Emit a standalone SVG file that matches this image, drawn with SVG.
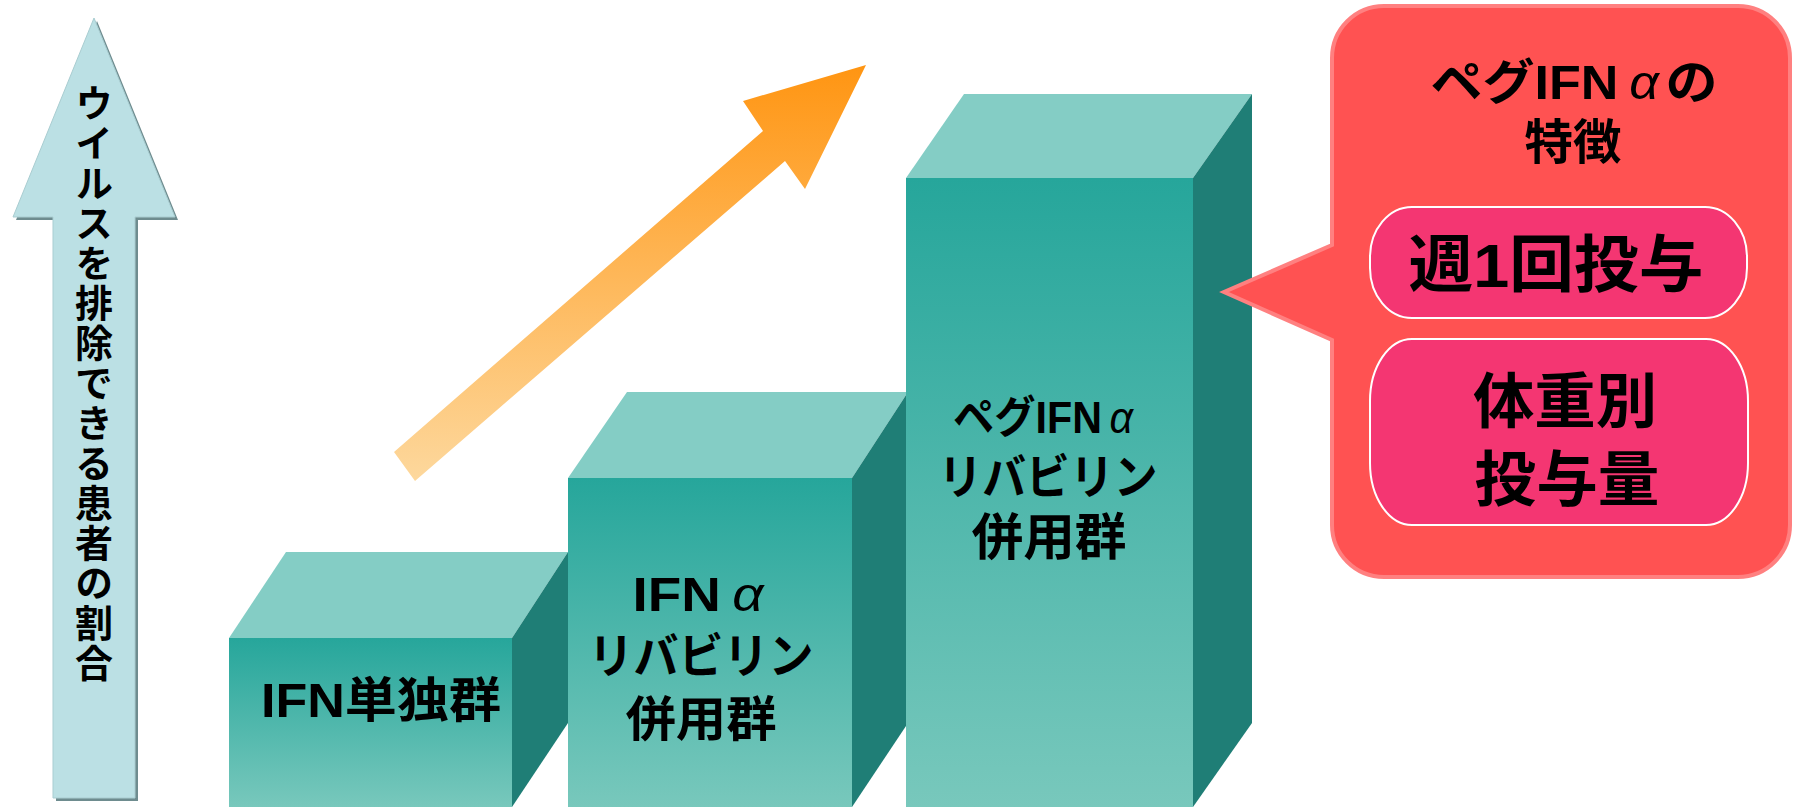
<svg xmlns="http://www.w3.org/2000/svg" width="1793" height="807" viewBox="0 0 1793 807">
<defs>
<linearGradient id="front" x1="0" y1="0" x2="0" y2="1">
<stop offset="0" stop-color="#26A69B"/>
<stop offset="1" stop-color="#78C8BC"/>
</linearGradient>
<linearGradient id="orange" gradientUnits="userSpaceOnUse" x1="0" y1="65" x2="0" y2="481">
<stop offset="0" stop-color="#FF9512"/>
<stop offset="1" stop-color="#FDD89D"/>
</linearGradient>
<style>
.top{fill:#84CDC5}
.front{fill:url(#front)}
.side{fill:#1F7E76}
.t{font-family:"Liberation Sans","Noto Sans CJK JP",sans-serif;font-weight:bold;fill:#000;text-anchor:middle;dominant-baseline:central}
.v{font-family:"Noto Sans CJK JP",sans-serif;font-weight:bold;fill:#000;text-anchor:middle}
.a{font-style:italic;font-weight:normal}
.pill{fill:#F43672;stroke:#FFFFFF;stroke-width:2}
</style>
</defs>
<rect width="1793" height="807" fill="#FFFFFF"/>

<g id="axis-arrow">
<polygon points="97,21 178,220 138,220 138,801 56,801 56,220 16,220" fill="#6E8C8F"/>
<polygon points="94,18 175,217 135,217 135,798 53,798 53,217 13,217" fill="#BBE0E4" stroke="#A9CDD1" stroke-width="1"/>
<text class="v" x="94" y="384" font-size="38" style="writing-mode:vertical-rl" letter-spacing="2">ウイルスを排除できる患者の割合</text>
</g>

<g id="connectors">
<polygon id="trend-arrow" points="394,452 763,131 743,101 866,65 805,189 785,161 415,481" fill="url(#orange)"/>
</g>

<g id="box1">
<polygon class="top" points="229,638 286,552 568,552 512,638"/>
<polygon class="side" points="512,638 568,552 568,723 512,807"/>
<rect class="front" x="229" y="638" width="283" height="169"/>
<text class="t" x="381" y="700" font-size="48" textLength="240" lengthAdjust="spacingAndGlyphs">IFN単独群</text>
</g>

<g id="box2">
<polygon class="top" points="568,478 627,392 908,392 852,478"/>
<polygon class="side" points="852,478 908,392 908,723 852,807"/>
<rect class="front" x="568" y="478" width="284" height="329"/>
<text class="t" x="698" y="594" font-size="48" textLength="131" lengthAdjust="spacingAndGlyphs">IFN<tspan class="a" dx="10">α</tspan></text>
<text class="t" x="701" y="656" font-size="48" textLength="225" lengthAdjust="spacingAndGlyphs">リバビリン</text>
<text class="t" x="701" y="719" font-size="48" textLength="151" lengthAdjust="spacingAndGlyphs">併用群</text>
</g>

<g id="box3">
<polygon class="top" points="906,178 964,94 1252,94 1193,178"/>
<polygon class="side" points="1193,178 1252,94 1252,723 1193,807"/>
<rect class="front" x="906" y="178" width="287" height="629"/>
<text class="t" x="1043" y="417" font-size="44" textLength="180" lengthAdjust="spacingAndGlyphs">ペグIFN<tspan class="a" dx="8">α</tspan></text>
<text class="t" x="1048" y="477" font-size="48" textLength="219" lengthAdjust="spacingAndGlyphs">リバビリン</text>
<text class="t" x="1049" y="538" font-size="50" textLength="155" lengthAdjust="spacingAndGlyphs">併用群</text>
</g>

<g id="callout">
<path d="M 1384 6 H 1738 A 52 52 0 0 1 1790 58 V 525 A 52 52 0 0 1 1738 577 H 1384 A 52 52 0 0 1 1332 525 V 340 L 1224 292 L 1332 245 V 58 A 52 52 0 0 1 1384 6 Z" fill="#FF5252" stroke="#FF8080" stroke-width="4"/>
<text class="t" x="1574" y="82" font-size="48" textLength="287" lengthAdjust="spacingAndGlyphs">ペグIFN<tspan class="a" dx="10">α</tspan><tspan dx="6">の</tspan></text>
<text class="t" x="1573" y="142" font-size="48" textLength="97" lengthAdjust="spacingAndGlyphs">特徴</text>
</g>

<g id="feature1">
<rect class="pill" x="1370" y="207" width="377" height="111" rx="42" ry="50"/>
<text class="t" x="1556" y="265" font-size="62" textLength="295" lengthAdjust="spacingAndGlyphs">週1回投与</text>
</g>

<g id="feature2">
<rect class="pill" x="1370" y="339" width="378" height="186" rx="42" ry="62"/>
<text class="t" x="1565" y="402" font-size="60" textLength="184" lengthAdjust="spacingAndGlyphs">体重別</text>
<text class="t" x="1567" y="480" font-size="60" textLength="185" lengthAdjust="spacingAndGlyphs">投与量</text>
</g>
</svg>
